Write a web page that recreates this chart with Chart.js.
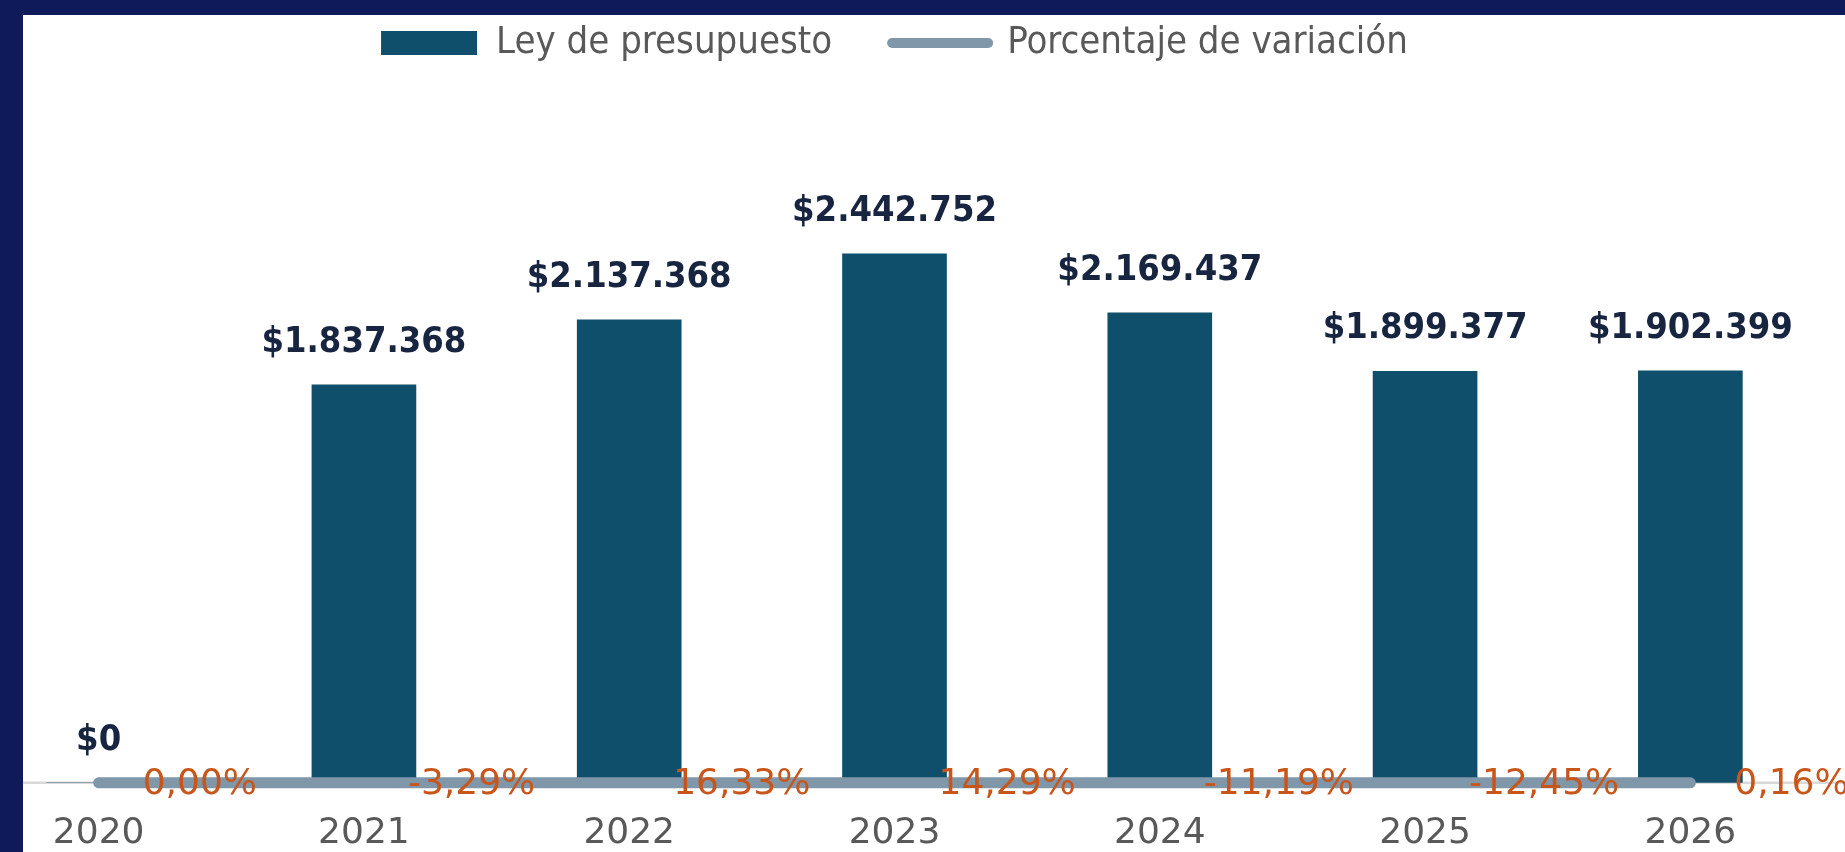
<!DOCTYPE html>
<html>
<head>
<meta charset="utf-8">
<script src="https://cdn.jsdelivr.net/npm/chart.js@4.4.1/dist/chart.umd.min.js"></script>
<style>
  html, body {
    margin: 0;
    padding: 0;
    width: 1845px;
    height: 852px;
    overflow: hidden;
    background: #ffffff;
  }
  #chartBox {
    position: absolute;
    left: -34px;
    top: -36px;
    width: 1879px;
    height: 920px;
  }
  .frameTop {
    position: absolute;
    left: 0;
    top: 0;
    width: 1845px;
    height: 15px;
    background: #0e1a5a;
  }
  .frameLeft {
    position: absolute;
    left: 0;
    top: 0;
    width: 23px;
    height: 852px;
    background: #0e1a5a;
  }
</style>
</head>
<body>
<div id="chartBox"><canvas id="presupuestoChart"></canvas></div>
<div class="frameTop"></div>
<div class="frameLeft"></div>

<script>
const years = ["2020", "2021", "2022", "2023", "2024", "2025", "2026"];
const leyPresupuesto = [0, 1837368, 2137368, 2442752, 2169437, 1899377, 1902399];
const porcentajeVariacion = [0.0, -3.29, 16.33, 14.29, -11.19, -12.45, 0.16];

const barColor = "#104f6b";
const lineColor = "#8096a9";
const valueColor = "#172540";
const pctColor = "#c8561a";
const textGray = "#595959";

const condensed = "'DejaVu Sans Condensed', 'Liberation Sans Narrow', 'DejaVu Sans', sans-serif";
const regular = "'DejaVu Sans', sans-serif";

// 1837368 -> "$1.837.368"
const formatMoney = (v) => "$" + String(v).replace(/\B(?=(\d{3})+(?!\d))/g, ".");
// -3.29 -> "-3,29%"
const formatPct = (v) => v.toFixed(2).replace(".", ",") + "%";

// thin axis line across the whole plot + value labels
const labelsPlugin = {
  id: "labelsPlugin",
  beforeDatasetsDraw(chart) {
    const ctx = chart.ctx;
    const y = chart.scales.y.getPixelForValue(0);
    ctx.save();
    ctx.strokeStyle = "#d9d9d9";
    ctx.lineWidth = 2.5;
    ctx.beginPath();
    ctx.moveTo(0, y);
    ctx.lineTo(chart.width, y);
    ctx.stroke();
    ctx.restore();
  },
  afterDatasetsDraw(chart) {
    const ctx = chart.ctx;
    ctx.save();

    // money labels over the bars
    const barMeta = chart.getDatasetMeta(0);
    ctx.font = "bold 36px " + condensed;
    ctx.fillStyle = valueColor;
    ctx.textAlign = "center";
    ctx.textBaseline = "alphabetic";
    barMeta.data.forEach((bar, i) => {
      ctx.fillText(formatMoney(leyPresupuesto[i]), bar.x, bar.y - 33);
    });

    // percentage labels right of the line points
    const lineMeta = chart.getDatasetMeta(1);
    ctx.font = "36px " + regular;
    ctx.fillStyle = pctColor;
    ctx.textAlign = "left";
    ctx.textBaseline = "middle";
    lineMeta.data.forEach((pt, i) => {
      ctx.fillText(formatPct(porcentajeVariacion[i]), pt.x + 44, pt.y + 2);
    });

    ctx.restore();
  },
};

const ctx = document.getElementById("presupuestoChart").getContext("2d");
const presupuestoChart = new Chart(ctx, {
  type: "bar",
  data: {
    labels: years,
    datasets: [
      {
        type: "bar",
        label: "Ley de presupuesto",
        data: leyPresupuesto,
        backgroundColor: barColor,
        borderWidth: 0,
        barThickness: 104,
        order: 1,
      },
      {
        type: "line",
        label: "Porcentaje de variación",
        data: porcentajeVariacion,
        borderColor: lineColor,
        backgroundColor: lineColor,
        borderWidth: 11,
        borderCapStyle: "round",
        pointRadius: 0,
        pointHoverRadius: 0,
        fill: false,
        clip: false,
        order: 0,
      },
    ],
  },
  options: {
    responsive: true,
    maintainAspectRatio: false,
    animation: false,
    layout: {
      padding: { left: 0, top: 0, bottom: 0, right: 22 },
    },
    plugins: {
      tooltip: { enabled: false },
      legend: {
        display: true,
        position: "top",
        labels: {
          usePointStyle: true,
          pointStyleWidth: 96,
          boxHeight: 24,
          padding: 60,
          color: textGray,
          font: { family: condensed, size: 38 },
          generateLabels: (chart) =>
            chart.data.datasets.map((ds, i) => ({
              text: ds.label,
              datasetIndex: i,
              fillStyle: i === 0 ? barColor : lineColor,
              strokeStyle: i === 0 ? barColor : lineColor,
              lineWidth: i === 0 ? 0 : 10,
              lineCap: "round",
              pointStyle: i === 0 ? "rect" : "line",
              fontColor: textGray,
              hidden: false,
            })),
        },
      },
    },
    scales: {
      x: {
        grid: { display: false, drawTicks: false },
        border: { display: false },
        ticks: {
          color: textGray,
          font: { family: regular, size: 36 },
          padding: 29,
          maxRotation: 0,
          autoSkip: false,
        },
      },
      y: {
        display: false,
        min: 0,
        max: 3282000,
      },
    },
  },
  plugins: [labelsPlugin],
});
</script>
</body>
</html>
